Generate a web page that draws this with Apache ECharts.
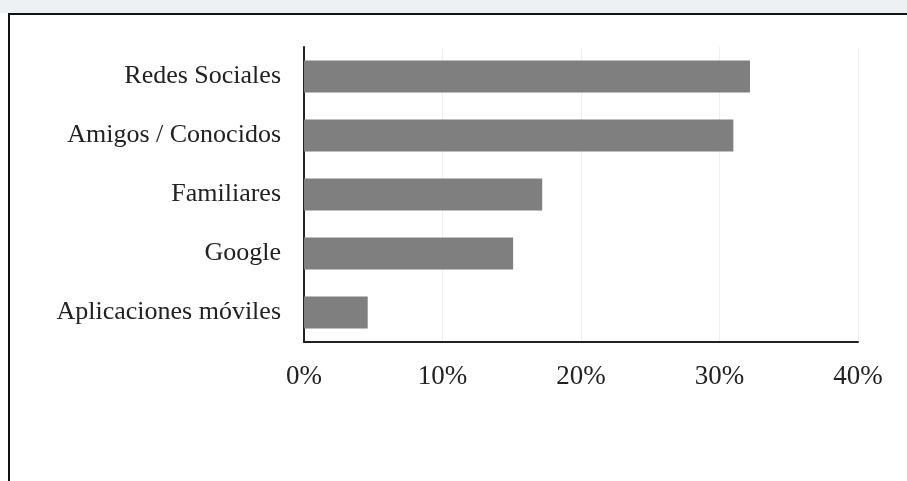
<!DOCTYPE html>
<html>
<head>
<meta charset="utf-8">
<script src="https://cdn.jsdelivr.net/npm/echarts@6/dist/echarts.min.js"></script>
<style>
  html, body { margin: 0; padding: 0; background: #ffffff; }
  #chart { width: 907px; height: 481px; }
</style>
</head>
<body>
<div id="chart"></div>
<script>
// categories listed bottom to top (category axis on y starts at the bottom)
const categories = ['Aplicaciones móviles', 'Google', 'Familiares', 'Amigos / Conocidos', 'Redes Sociales'];
const shares = [4.6, 15.1, 17.2, 31.0, 32.2];
const xTicks = [0, 10, 20, 30, 40];

const chart = echarts.init(document.getElementById('chart'));

chart.setOption({
    animation: false,
    backgroundColor: '#ffffff',
    graphic: [
        {
            type: 'rect',
            shape: { x: 0, y: 0, width: 907, height: 13 },
            style: { fill: '#eef1f4' },
            silent: true
        },
        {
            type: 'rect',
            shape: { x: 9, y: 14, width: 920, height: 500 },
            style: { fill: 'none', stroke: '#111', lineWidth: 2 },
            silent: true
        }
    ],
    grid: {
        left: 304,
        right: 49,
        top: 47,
        bottom: 139,
        containLabel: false
    },
    xAxis: {
        type: 'value',
        min: xTicks[0],
        max: xTicks[xTicks.length - 1],
        interval: 10,
        axisLine: { show: true, lineStyle: { color: '#222', width: 2 } },
        axisTick: { show: false },
        splitLine: { show: true, lineStyle: { color: '#efefef', width: 1 } },
        axisLabel: {
            formatter: '{value}%',
            color: '#222',
            fontSize: 27,
            fontFamily: '"Liberation Serif", "DejaVu Serif", serif',
            margin: 21
        }
    },
    yAxis: {
        type: 'category',
        data: categories,
        axisLine: { show: true, lineStyle: { color: '#222', width: 2 } },
        axisTick: { show: false },
        axisLabel: {
            color: '#222',
            fontSize: 26,
            fontFamily: '"Liberation Serif", "DejaVu Serif", serif',
            margin: 23
        }
    },
    series: [
        {
            name: 'Share',
            type: 'bar',
            data: shares,
            barWidth: 32,
            itemStyle: { color: '#7f7f7f' }
        }
    ]
});
</script>
</body>
</html>
